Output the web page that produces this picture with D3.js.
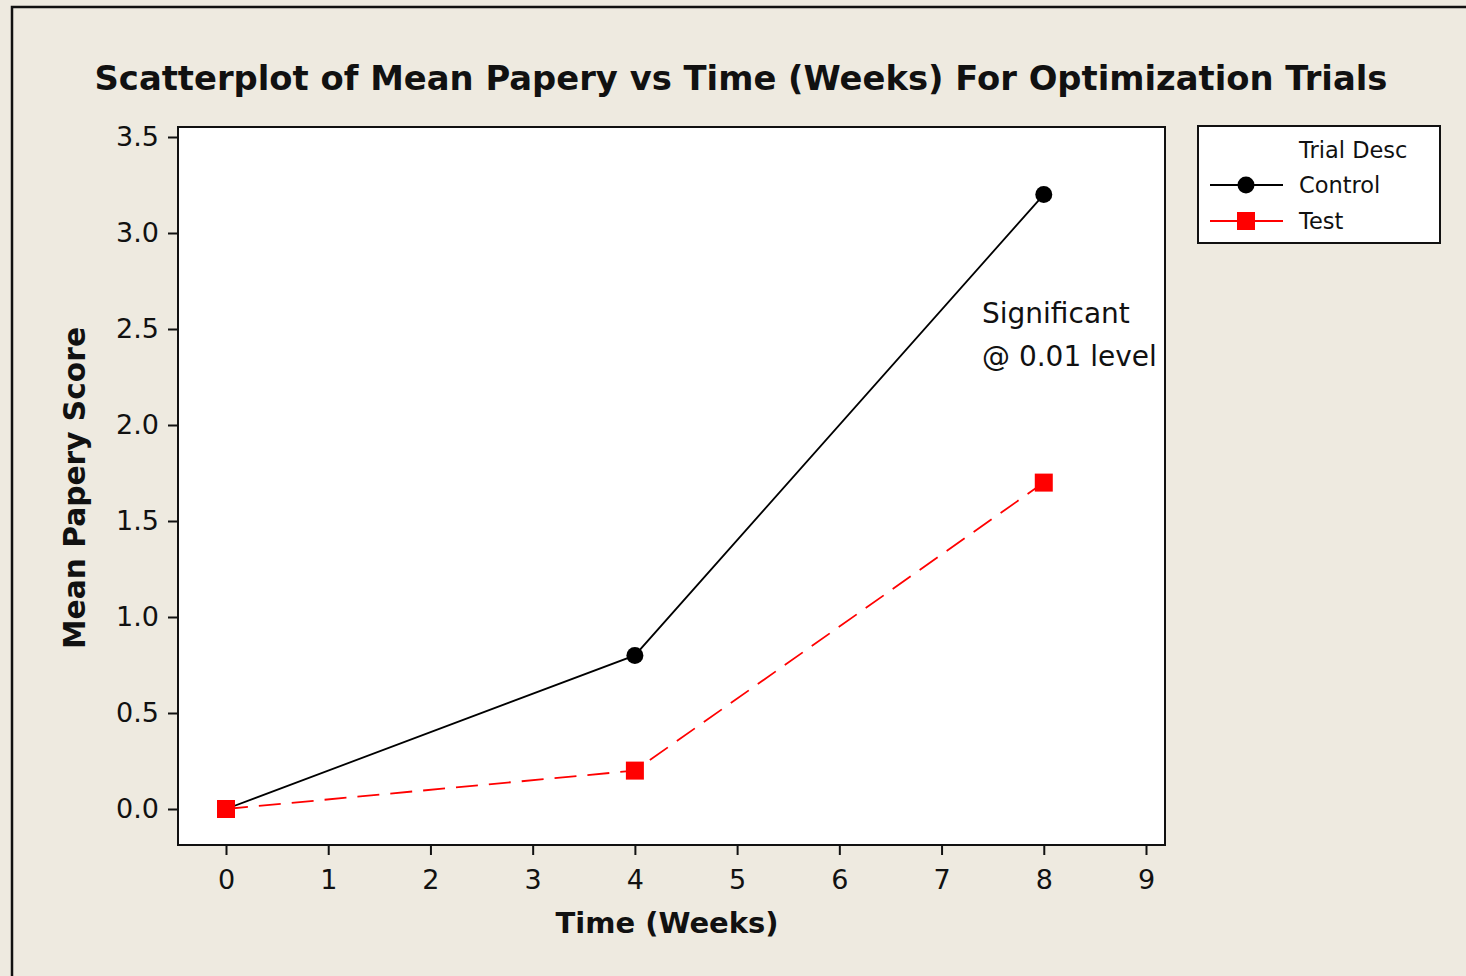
<!DOCTYPE html>
<html>
<head>
<meta charset="utf-8">
<script src="https://cdn.jsdelivr.net/npm/d3@7"></script>
<style>
  body { margin: 0; background: #eeeae0; }
  svg text { font-family: "DejaVu Sans", sans-serif; fill: #111; }
</style>
</head>
<body>
<div id="chart"></div>
<script>
// data
var weeks = [0, 4, 8];
var controlScores = [0, 0.8, 3.2];
var testScores = [0, 0.2, 1.7];
var seriesNames = ["Control", "Test"];
var xTicks = [0, 1, 2, 3, 4, 5, 6, 7, 8, 9];
var yTicks = [0, 0.5, 1.0, 1.5, 2.0, 2.5, 3.0, 3.5];

var width = 1466, height = 976;
var plot = { left: 178, top: 127, right: 1165, bottom: 845 };

var svg = d3.select("#chart").append("svg")
    .attr("width", width)
    .attr("height", height);

// outer frame
svg.append("rect")
    .attr("x", 12).attr("y", 7)
    .attr("width", width + 20).attr("height", height + 20)
    .style("fill", "#eeeae0")
    .style("stroke", "#111")
    .style("stroke-width", 2.5);

var x = d3.scaleLinear().domain([0, 9]).range([226, 1146]);
var y = d3.scaleLinear().domain([0, 3.5]).range([809, 137]);

// plot area
svg.append("rect")
    .attr("x", plot.left).attr("y", plot.top)
    .attr("width", plot.right - plot.left)
    .attr("height", plot.bottom - plot.top)
    .style("fill", "#fff")
    .style("stroke", "#111")
    .style("stroke-width", 2);

var yAxis = svg.append("g")
    .attr("transform", "translate(" + plot.left + ",0)")
    .call(d3.axisLeft(y).tickValues(yTicks).tickSize(10).tickPadding(9).tickFormat(d3.format(".1f")));

var xAxis = svg.append("g")
    .attr("transform", "translate(0," + plot.bottom + ")")
    .call(d3.axisBottom(x).tickValues(xTicks).tickSize(10).tickPadding(15).tickFormat(d3.format("d")));

[yAxis, xAxis].forEach(function(ax) {
    ax.select(".domain").remove();
    ax.selectAll("line").style("stroke", "#111").style("stroke-width", 2);
    ax.selectAll("text").style("font-size", "27px").style("fill", "#111");
});

// series
var series = [
    { name: seriesNames[0], values: controlScores, color: "#000", dash: null, shape: "circle" },
    { name: seriesNames[1], values: testScores, color: "#ff0000", dash: "22,11", shape: "square" }
];

var line = d3.line()
    .x(function(d) { return x(d[0]); })
    .y(function(d) { return y(d[1]); });

series.forEach(function(s) {
    var pts = weeks.map(function(w, i) { return [w, s.values[i]]; });
    svg.append("path")
        .datum(pts)
        .attr("d", line)
        .style("fill", "none")
        .style("stroke", s.color)
        .style("stroke-width", 1.8)
        .style("stroke-dasharray", s.dash);
});

// markers drawn after lines so the red square sits on top at the origin
series.forEach(function(s) {
    var pts = weeks.map(function(w, i) { return [w, s.values[i]]; });
    if (s.shape == "circle") {
        svg.selectAll(".dot").data(pts).enter().append("circle")
            .attr("cx", function(d) { return x(d[0]); })
            .attr("cy", function(d) { return y(d[1]); })
            .attr("r", 8.5)
            .style("fill", s.color);
    } else {
        svg.selectAll(".sq").data(pts).enter().append("rect")
            .attr("x", function(d) { return x(d[0]) - 9; })
            .attr("y", function(d) { return y(d[1]) - 9; })
            .attr("width", 18).attr("height", 18)
            .style("fill", s.color);
    }
});

// titles
svg.append("text")
    .attr("x", 741).attr("y", 90)
    .attr("text-anchor", "middle")
    .style("font-size", "33.8px").style("font-weight", "bold")
    .text("Scatterplot of Mean Papery vs Time (Weeks) For Optimization Trials");

svg.append("text")
    .attr("x", 667).attr("y", 933)
    .attr("text-anchor", "middle")
    .style("font-size", "29px").style("font-weight", "bold")
    .text("Time (Weeks)");

svg.append("text")
    .attr("transform", "translate(85,488) rotate(-90)")
    .attr("text-anchor", "middle")
    .style("font-size", "29.7px").style("font-weight", "bold")
    .text("Mean Papery Score");

// annotation
svg.append("text").attr("x", 982).attr("y", 323)
    .style("font-size", "28px").text("Significant");
svg.append("text").attr("x", 982).attr("y", 366)
    .style("font-size", "28px").text("@ 0.01 level");

// legend
var legend = svg.append("g");
legend.append("rect")
    .attr("x", 1198).attr("y", 126)
    .attr("width", 242).attr("height", 117)
    .style("fill", "#fff")
    .style("stroke", "#111")
    .style("stroke-width", 2);

legend.append("text").attr("x", 1299).attr("y", 158)
    .style("font-size", "22.5px").text("Trial Desc");

series.forEach(function(s, i) {
    var ly = 185 + i * 36;
    legend.append("line")
        .attr("x1", 1210).attr("x2", 1283)
        .attr("y1", ly).attr("y2", ly)
        .style("stroke", s.color).style("stroke-width", 2);
    if (s.shape == "circle") {
        legend.append("circle").attr("cx", 1246).attr("cy", ly).attr("r", 8.5).style("fill", s.color);
    } else {
        legend.append("rect").attr("x", 1237).attr("y", ly - 9)
            .attr("width", 18).attr("height", 18).style("fill", s.color);
    }
    legend.append("text").attr("x", 1299).attr("y", ly + 8)
        .style("font-size", "22.5px").text(s.name);
});
</script>
</body>
</html>
